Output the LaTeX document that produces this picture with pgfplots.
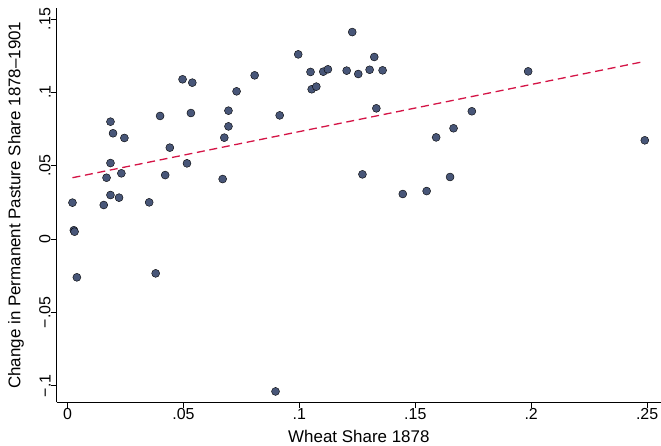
\documentclass[border=0pt]{standalone}
\usepackage{pgfplots}
\pgfplotsset{compat=1.18}
\usepackage{fontspec}
\setmainfont{Liberation Sans}

\definecolor{dotblue}{RGB}{72,86,120}
\definecolor{fitred}{RGB}{212,20,70}

\begin{document}
\begin{tikzpicture}
\begin{axis}[
  name=ax,
  scale only axis,
  width=604.3bp, height=394.3bp,
  xmin=-0.0047, xmax=0.256,
  ymin=-0.1113, ymax=0.1575,
  axis x line*=bottom, axis y line*=left,
  axis line style={line width=0.9bp, black},
  tick align=outside,
  major tick length=6bp,
  tick style={line width=0.7bp, black},
  xtick={0,0.05,0.1,0.15,0.2,0.25},
  xticklabels={0,.05,.1,.15,.2,.25},
  ytick={-0.1,-0.05,0,0.05,0.1,0.15},
  yticklabels={−.1,−.05,0,.05,.1,.15},
  ticklabel style={font=\fontsize{16}{19}\selectfont, inner sep=0pt},
  xticklabel style={anchor=north},
  yticklabel style={rotate=90, anchor=south},
  xlabel={Wheat Share 1878},
  ylabel={Change in Permanent Pasture Share 1878–1901},
  label style={font=\fontsize{17}{20}\selectfont, inner sep=0pt},
  xlabel style={at={(axis description cs:0.5,-0.1025)}, anchor=base},
  ylabel style={at={(axis description cs:-0.0599,0.5)}, anchor=base},
  clip=false,
]
% Scatter of districts
\addplot[only marks, mark=*, mark size=4bp, mark options={draw=none, fill=dotblue}]
coordinates {
(0.0021,0.0248) (0.0027,0.0060) (0.0030,0.0050) (0.0040,-0.0261)
(0.0380,-0.0234) (0.0897,-0.1039)
(0.0156,0.0232) (0.0168,0.0418) (0.0185,0.0800) (0.0196,0.0721)
(0.0185,0.0518) (0.0185,0.0300) (0.0222,0.0282) (0.0232,0.0448)
(0.0245,0.0689) (0.0352,0.0250) (0.0399,0.0839) (0.0421,0.0436)
(0.0441,0.0623) (0.0496,0.1089) (0.0538,0.1066) (0.0532,0.0859)
(0.0515,0.0516) (0.0669,0.0409) (0.0676,0.0691) (0.0694,0.0875)
(0.0694,0.0768) (0.0729,0.1007) (0.0807,0.1116) (0.0915,0.0843)
(0.0995,0.1259) (0.1048,0.1139) (0.1053,0.1021) (0.1073,0.1039)
(0.1103,0.1141) (0.1123,0.1157) (0.1204,0.1148) (0.1228,0.1411)
(0.1254,0.1125) (0.1303,0.1154) (0.1323,0.1241) (0.1359,0.1150)
(0.1332,0.0891) (0.1272,0.0441) (0.1446,0.0307) (0.1549,0.0327)
(0.1590,0.0693) (0.1650,0.0423) (0.1665,0.0755) (0.1744,0.0871)
(0.1987,0.1143) (0.2490,0.0673)
};
% Linear fit
\addplot[fitred, line width=1.3bp, dash pattern=on 8bp off 4.7bp]
coordinates {(0.0021,0.0418) (0.2490,0.1211)};
\end{axis}
\pgfresetboundingbox
\path[use as bounding box] ([shift={(-56.7bp,-43.7bp)}]ax.south west) rectangle ([shift={(0bp,8bp)}]ax.north east);
\end{tikzpicture}
\end{document}
